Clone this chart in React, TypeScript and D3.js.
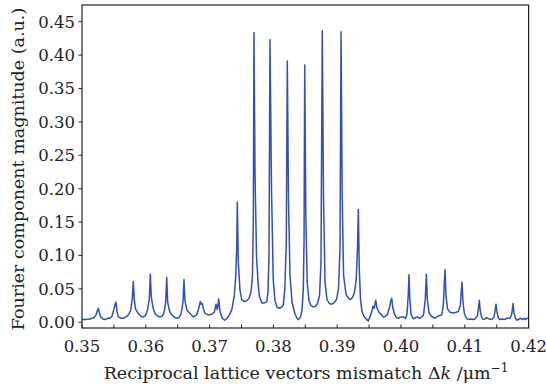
import React, { useEffect, useRef } from 'react';
import * as d3 from 'd3';

// reciprocal lattice vector mismatch (um^-1)
const deltaK = [
  0.35, 0.35063, 0.35125, 0.35188, 0.35219, 0.35243, 0.35255, 0.35271, 0.35293, 0.35329,
  0.35361, 0.35408, 0.35439, 0.3547, 0.35491, 0.35517, 0.35533, 0.35549, 0.35569, 0.35611,
  0.35647, 0.3569, 0.35726, 0.35763, 0.35788, 0.35804, 0.3582, 0.35839, 0.35882, 0.35925,
  0.35961, 0.35995, 0.36027, 0.36055, 0.36071, 0.36086, 0.36113, 0.36144, 0.36191, 0.36223,
  0.36254, 0.36285, 0.36312, 0.36328, 0.36343, 0.36371, 0.36406, 0.36442, 0.36484, 0.3652,
  0.36552, 0.36583, 0.36599, 0.36614, 0.36646, 0.36693, 0.36745, 0.36798, 0.36834, 0.36854,
  0.3687, 0.36886, 0.36904, 0.36928, 0.3698, 0.37033, 0.37074, 0.371, 0.37121, 0.37143,
  0.37163, 0.37199, 0.37234, 0.37273, 0.37312, 0.37351, 0.37387, 0.37409, 0.37425, 0.37434,
  0.3745, 0.37476, 0.37503, 0.37544, 0.37582, 0.37618, 0.37649, 0.37672, 0.37685, 0.37696,
  0.37712, 0.37735, 0.37759, 0.37782, 0.37821, 0.37861, 0.37895, 0.37915, 0.37931, 0.37947,
  0.3797, 0.37998, 0.38025, 0.38056, 0.38088, 0.38127, 0.38155, 0.38179, 0.38202, 0.38218,
  0.38237, 0.3826, 0.38292, 0.38339, 0.3837, 0.38393, 0.38425, 0.38448, 0.38469, 0.3848,
  0.38491, 0.38508, 0.3853, 0.38558, 0.38589, 0.38625, 0.3866, 0.38691, 0.38723, 0.38746,
  0.38766, 0.38785, 0.38809, 0.3884, 0.38879, 0.38914, 0.3895, 0.38989, 0.3902, 0.39044,
  0.3906, 0.39078, 0.391, 0.39138, 0.39174, 0.39209, 0.3924, 0.39271, 0.39299, 0.39318,
  0.39331, 0.39346, 0.39365, 0.39389, 0.3942, 0.39451, 0.39487, 0.39514, 0.39541, 0.39561,
  0.39582, 0.39603, 0.39624, 0.39655, 0.39687, 0.39723, 0.39757, 0.39788, 0.3982, 0.39835,
  0.39854, 0.39871, 0.39898, 0.39929, 0.39958, 0.39992, 0.40036, 0.40071, 0.40094, 0.40113,
  0.40125, 0.40138, 0.40157, 0.40193, 0.40227, 0.40256, 0.40282, 0.40313, 0.40353, 0.40381,
  0.40397, 0.40412, 0.40439, 0.40478, 0.40533, 0.4058, 0.40638, 0.40663, 0.40677, 0.4069,
  0.40705, 0.40729, 0.40768, 0.4082, 0.40862, 0.40898, 0.4093, 0.40944, 0.40956, 0.40972,
  0.40995, 0.41027, 0.41055, 0.41097, 0.41129, 0.4116, 0.41199, 0.41216, 0.41227, 0.41241,
  0.41262, 0.4129, 0.41317, 0.41343, 0.41379, 0.41422, 0.41458, 0.41476, 0.41489, 0.41505,
  0.41528, 0.41552, 0.41591, 0.41622, 0.41657, 0.41708, 0.41735, 0.41746, 0.41756, 0.41771,
  0.41795, 0.41818, 0.4185, 0.41881, 0.41904, 0.41928, 0.41951, 0.41986,
];

// Fourier component magnitude (a.u.)
const magnitude = [
  0.004, 0.004, 0.005, 0.007, 0.011, 0.018, 0.021, 0.015, 0.008, 0.005,
  0.004, 0.006, 0.006, 0.009, 0.016, 0.026, 0.03, 0.016, 0.008, 0.006,
  0.006, 0.008, 0.011, 0.018, 0.035, 0.061, 0.033, 0.02, 0.013, 0.009,
  0.008, 0.01, 0.018, 0.035, 0.072, 0.038, 0.022, 0.013, 0.009, 0.008,
  0.009, 0.014, 0.03, 0.067, 0.03, 0.017, 0.011, 0.008, 0.006, 0.007,
  0.012, 0.03, 0.064, 0.032, 0.018, 0.013, 0.008, 0.011, 0.022, 0.031,
  0.027, 0.028, 0.02, 0.013, 0.011, 0.012, 0.015, 0.027, 0.019, 0.035,
  0.016, 0.006, 0.003, 0.006, 0.011, 0.02, 0.04, 0.068, 0.11, 0.18,
  0.09, 0.048, 0.034, 0.031, 0.032, 0.036, 0.045, 0.07, 0.15, 0.434,
  0.22, 0.1, 0.06, 0.038, 0.029, 0.029, 0.031, 0.045, 0.1, 0.423,
  0.2, 0.063, 0.032, 0.023, 0.021, 0.022, 0.026, 0.05, 0.12, 0.391,
  0.18, 0.07, 0.03, 0.012, 0.006, 0.004, 0.008, 0.018, 0.05, 0.12,
  0.385, 0.16, 0.06, 0.032, 0.025, 0.023, 0.024, 0.028, 0.04, 0.09,
  0.4365, 0.19, 0.06, 0.034, 0.028, 0.027, 0.029, 0.034, 0.05, 0.11,
  0.435, 0.19, 0.07, 0.042, 0.036, 0.034, 0.037, 0.045, 0.065, 0.11,
  0.169, 0.08, 0.035, 0.016, 0.009, 0.005, 0.002, 0.008, 0.016, 0.024,
  0.021, 0.033, 0.021, 0.015, 0.012, 0.008, 0.009, 0.012, 0.022, 0.03,
  0.036, 0.022, 0.012, 0.007, 0.006, 0.008, 0.008, 0.006, 0.012, 0.04,
  0.071, 0.035, 0.012, 0.005, 0.007, 0.008, 0.006, 0.007, 0.011, 0.035,
  0.072, 0.035, 0.014, 0.009, 0.006, 0.009, 0.011, 0.025, 0.055, 0.079,
  0.04, 0.02, 0.015, 0.014, 0.015, 0.016, 0.025, 0.045, 0.06, 0.03,
  0.012, 0.006, 0.004, 0.005, 0.004, 0.005, 0.01, 0.022, 0.033, 0.018,
  0.008, 0.004, 0.005, 0.007, 0.005, 0.004, 0.008, 0.018, 0.027, 0.015,
  0.006, 0.004, 0.005, 0.004, 0.006, 0.006, 0.012, 0.02, 0.028, 0.014,
  0.006, 0.003, 0.005, 0.006, 0.004, 0.006, 0.004, 0.007,
];

const xTickLabels = ['0.35', '0.36', '0.37', '0.38', '0.39', '0.40', '0.41', '0.42'];
const yTickLabels = ['0.00', '0.05', '0.10', '0.15', '0.20', '0.25', '0.30', '0.35', '0.40', '0.45'];

const width = 546;
const height = 386;
const font = '"DejaVu Serif", serif';

const App: React.FC = () => {
  const svgRef = useRef<SVGSVGElement>(null);

  useEffect(() => {
    if (!svgRef.current) return;
    const svg = d3.select(svgRef.current);
    svg.selectAll('*').remove();

    const margin = { top: 5, right: 17.4, bottom: 58, left: 82 };

    const x = d3.scaleLinear()
      .domain([0.35, 0.42])
      .range([margin.left, width - margin.right]);
    const y = d3.scaleLinear()
      .domain([-0.0086, 0.475])
      .range([height - margin.bottom, margin.top]);

    const pts: [number, number][] = deltaK.map((k, i) => [k, magnitude[i]]);

    // spectrum
    const line = d3.line<[number, number]>()
      .x(d => x(d[0]))
      .y(d => y(d[1]));

    svg.append('path')
      .datum(pts)
      .attr('d', line)
      .style('fill', 'none')
      .style('stroke', '#3350b0')
      .style('stroke-width', '1.5px')
      .style('stroke-linejoin', 'round');

    // frame
    svg.append('rect')
      .attr('x', margin.left)
      .attr('y', margin.top)
      .attr('width', width - margin.left - margin.right)
      .attr('height', height - margin.top - margin.bottom)
      .style('fill', 'none')
      .style('stroke', '#222')
      .style('stroke-width', '1.2px');

    // x axis: inward ticks every 0.005
    const yBase = height - margin.bottom;
    const xMinor = d3.range(0, 15).map(i => 0.35 + i * 0.005);
    svg.append('g')
      .selectAll('line')
      .data(xMinor)
      .enter()
      .append('line')
      .attr('x1', d => x(d))
      .attr('x2', d => x(d))
      .attr('y1', yBase)
      .attr('y2', yBase - 3.5)
      .style('stroke', '#222')
      .style('stroke-width', '1px');

    svg.append('g')
      .selectAll('text')
      .data(xTickLabels)
      .enter()
      .append('text')
      .attr('x', d => x(+d))
      .attr('y', yBase + 23.5)
      .attr('text-anchor', 'middle')
      .style('font-family', font)
      .style('font-size', '16.5px')
      .style('fill', '#222')
      .text(d => d);

    // y axis: outward ticks
    svg.append('g')
      .selectAll('line')
      .data(yTickLabels)
      .enter()
      .append('line')
      .attr('x1', margin.left)
      .attr('x2', margin.left - 3.5)
      .attr('y1', d => y(+d))
      .attr('y2', d => y(+d))
      .style('stroke', '#222')
      .style('stroke-width', '1px');

    svg.append('g')
      .selectAll('text')
      .data(yTickLabels)
      .enter()
      .append('text')
      .attr('x', margin.left - 7)
      .attr('y', d => y(+d))
      .attr('dy', '0.36em')
      .attr('text-anchor', 'end')
      .style('font-family', font)
      .style('font-size', '16.5px')
      .style('fill', '#222')
      .text(d => d);

    // x title
    const xt = svg.append('text')
      .attr('x', 306)
      .attr('y', 379)
      .attr('text-anchor', 'middle')
      .style('font-family', font)
      .style('font-size', '17.5px')
      .style('fill', '#222');
    xt.append('tspan').text('Reciprocal lattice vectors mismatch Δ');
    xt.append('tspan').style('font-style', 'italic').text('k');
    xt.append('tspan').text(' /μm');
    xt.append('tspan').attr('dy', -7).style('font-size', '12px').text('−1');

    // y title
    svg.append('text')
      .attr('transform', 'translate(17.5,169) rotate(-90)')
      .attr('text-anchor', 'middle')
      .attr('dy', '0.35em')
      .style('font-family', font)
      .style('font-size', '17.5px')
      .style('fill', '#222')
      .text('Fourier component magnitude (a.u.)');
  }, []);

  return (
    <div style={{ position: 'absolute', left: 0, top: 0 }}>
      <svg ref={svgRef} width={width} height={height} style={{ display: 'block', background: '#fff' }}></svg>
    </div>
  );
};

export default App;
